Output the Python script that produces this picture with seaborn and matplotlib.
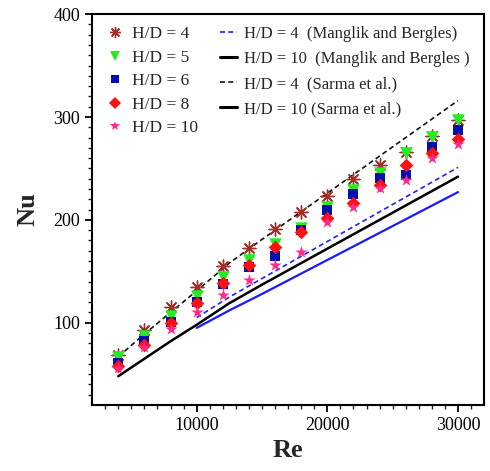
import numpy as np
import pandas as pd
import matplotlib
matplotlib.use("Agg")
import matplotlib.pyplot as plt
from matplotlib.lines import Line2D
import seaborn as sns

# ---------------- data ----------------
re_pts = [4000, 6000, 8000, 10000, 12000, 14000, 16000, 18000, 20000,
          22000, 24000, 26000, 28000, 30000]
nu_hd4 = [69, 93, 115, 135, 155, 173, 191, 208, 223, 240, 253, 266, 282, 297]
nu_hd5 = [67, 87, 107, 126, 144, 161, 177, 192, 213, 229, 246, 265, 281, 297]
nu_hd6 = [61, 82, 101, 120, 138, 154, 165, 190, 210, 225, 241, 244, 271, 287]
nu_hd8 = [58, 78, 100, 119, 139, 156, 174, 188, 202, 216, 234, 253, 265, 279]
nu_hd10 = [56, 76, 94, 110, 127, 142, 156, 169, 198, 213, 231, 239, 260, 274]

re_mb = [10000, 12500, 15000, 20000, 25000, 30000]
nu_mb4 = [105, 125, 143, 179, 215, 251]
nu_mb10 = [95, 112, 128, 161, 194, 227]

re_sa = [4000, 6000, 8000, 10000, 12500, 15000, 20000, 25000, 30000]
nu_sa4 = [67, 89, 110, 131, 158, 181, 226, 271, 316]
nu_sa10 = [48, 65, 82, 98, 119, 137, 172, 207, 242]

exp_labels = ["H/D = 4", "H/D = 5", "H/D = 6", "H/D = 8", "H/D = 10"]
line_labels = ["H/D = 4  (Manglik and Bergles)",
               "H/D = 10  (Manglik and Bergles )",
               "H/D = 4  (Sarma et al.)",
               "H/D = 10 (Sarma et al.)"]
x_ticks = [10000, 20000, 30000]
y_ticks = [100, 200, 300, 400]

# ---------------- style ----------------
sns.set_theme(style="ticks")
plt.rcParams['font.family'] = ['Liberation Serif', 'DejaVu Serif']
plt.rcParams['mathtext.fontset'] = 'stix'

fig = plt.figure(figsize=(4.9, 4.71), dpi=100)
ax = fig.add_axes([0.188, 0.140, 0.800, 0.830])

# lines (correlations)
line_specs = [
    (re_mb, nu_mb4, '#2020ff', (0, (3, 2)), 1.2, '#2020ff'),
    (re_mb, nu_mb10, '#1a1aff', '-', 1.6, '#000000'),
    (re_sa, nu_sa4, '#111111', (0, (3, 2)), 1.2, '#111111'),
    (re_sa, nu_sa10, '#000000', '-', 1.8, '#000000'),
]
line_handles = []
for xs, ys, col, ls, lw, hcol in line_specs:
    df = pd.DataFrame({"Re": xs, "Nu": ys})
    sns.lineplot(data=df, x="Re", y="Nu", ax=ax, color=col, linestyle=ls,
                 linewidth=lw, legend=False, zorder=2)
    line_handles.append(Line2D([0], [0], color=hcol, linestyle=ls,
                               linewidth=lw if ls != '-' else 2.2))

# experimental markers
exp_specs = [
    (nu_hd4, (8, 2, 0), '#a0302a', 85, 1.0),
    (nu_hd5, 'v', '#22ee22', 80, 0),
    (nu_hd6, 's', '#0010b0', 42, 0),
    (nu_hd8, 'D', '#ff1010', 48, 0),
    (nu_hd10, '*', '#ff2a8a', 85, 0),
]
exp_handles = []
for ys, mk, col, s, lw in exp_specs:
    df = pd.DataFrame({"Re": re_pts, "Nu": ys})
    if lw:
        sns.scatterplot(data=df, x="Re", y="Nu", ax=ax, marker=mk, color=col,
                        s=s, linewidth=lw, edgecolor=col, legend=False, zorder=3)
    else:
        sns.scatterplot(data=df, x="Re", y="Nu", ax=ax, marker=mk, color=col,
                        s=s, linewidth=0, legend=False, zorder=3)
    exp_handles.append(Line2D([0], [0], marker=mk, color=col, linestyle='none',
                              markersize=np.sqrt(s) * 0.85,
                              markeredgewidth=lw if lw else 0,
                              markeredgecolor=col))

# axes
ax.set_xlim(2000, 32000)
ax.set_ylim(20, 400)
ax.set_xticks(x_ticks)
ax.set_yticks(y_ticks)
ax.set_xticks(np.arange(3000, 32000, 1000), minor=True)
ax.set_yticks(np.arange(30, 400, 10), minor=True)
ax.tick_params(axis='both', which='major', direction='out', length=5, width=1.3,
               labelsize=13, colors='black', top=False, right=False)
ax.tick_params(axis='both', which='minor', direction='out', length=3, width=1.0,
               top=False, right=False)
for sp in ax.spines.values():
    sp.set_linewidth(1.5)
    sp.set_color('black')
    sp.set_visible(True)
ax.set_xlabel("Re", fontsize=19, fontweight='bold', labelpad=4)
ax.set_ylabel("Nu", fontsize=19, fontweight='bold', labelpad=10)

leg1 = ax.legend(exp_handles, exp_labels, loc='upper left', frameon=False,
                 fontsize=12.5, bbox_to_anchor=(0.0, 1.0), handletextpad=0.4,
                 labelspacing=0.42, handlelength=1.2, borderaxespad=0.3)
ax.add_artist(leg1)
leg2 = ax.legend(line_handles, line_labels, loc='upper left', frameon=False,
                 fontsize=12, bbox_to_anchor=(0.297, 1.0), handletextpad=0.4,
                 labelspacing=0.55, handlelength=1.0, borderaxespad=0.3)

fig.savefig("out.png", dpi=100)
